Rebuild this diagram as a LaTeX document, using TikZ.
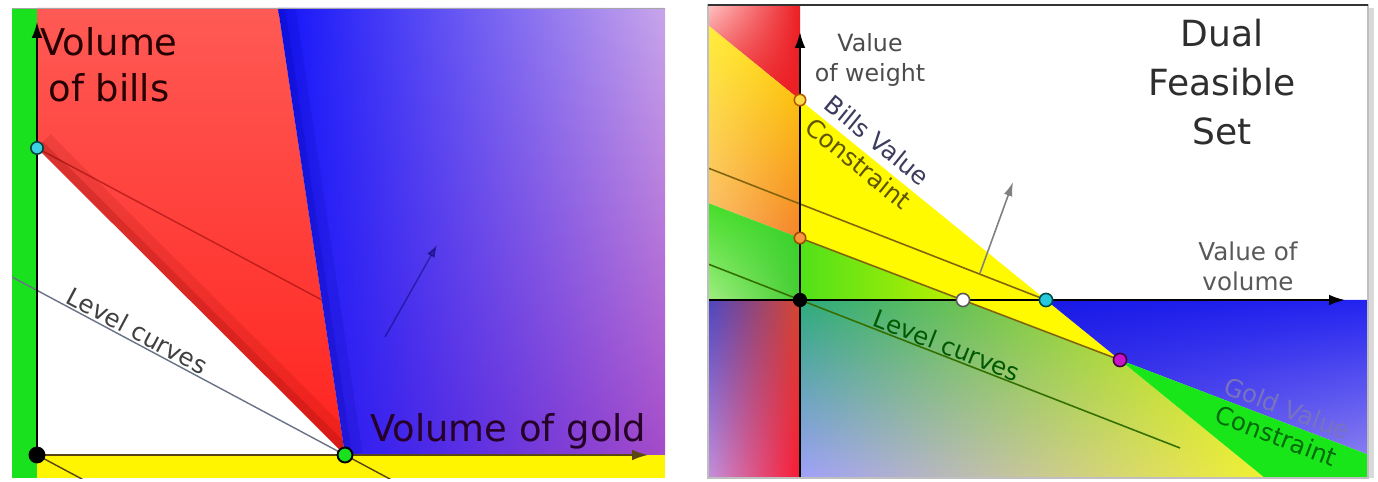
\documentclass[tikz,border=0pt]{standalone}
\usepackage{fontspec}
\setmainfont{DejaVu Sans}
\usetikzlibrary{arrows.meta,shadings}

% primal colours
\definecolor{pgreen}{RGB}{25,225,30}
\definecolor{pred}{RGB}{255,35,30}
\definecolor{predtop}{RGB}{255,90,85}
\definecolor{pblue}{RGB}{20,20,250}
\definecolor{plav}{RGB}{200,165,235}
\definecolor{ppurple}{RGB}{165,75,200}
\definecolor{pyellow}{RGB}{255,245,0}
\definecolor{pcyan}{RGB}{60,210,225}
\definecolor{paxis}{RGB}{90,70,20}
\definecolor{plevel}{RGB}{105,115,135}
% dual colours
\definecolor{dpink}{RGB}{255,195,195}
\definecolor{dred}{RGB}{235,30,35}
\definecolor{dyelA}{RGB}{255,238,60}
\definecolor{dyelB}{RGB}{255,220,0}
\definecolor{dorA}{RGB}{250,185,110}
\definecolor{dorB}{RGB}{245,130,40}
\definecolor{dgrA}{RGB}{70,222,40}
\definecolor{dgrB}{RGB}{50,210,40}
\definecolor{dgrC}{RGB}{160,238,130}
\definecolor{dgrD}{RGB}{70,205,50}
\definecolor{dqA}{RGB}{75,70,195}
\definecolor{dqB}{RGB}{215,70,45}
\definecolor{dqC}{RGB}{195,145,220}
\definecolor{dqD}{RGB}{250,25,50}
\definecolor{dgyA}{RGB}{80,225,25}
\definecolor{dgyB}{RGB}{190,240,0}
\definecolor{dmA}{RGB}{45,170,125}
\definecolor{dmB}{RGB}{215,242,0}
\definecolor{dmC}{RGB}{160,160,250}
\definecolor{dmD}{RGB}{240,240,50}
\definecolor{dbA}{RGB}{25,25,230}
\definecolor{dbB}{RGB}{35,35,240}
\definecolor{dbC}{RGB}{70,60,235}
\definecolor{dbD}{RGB}{135,125,240}
\definecolor{dyellow}{RGB}{255,250,0}
\definecolor{dband}{RGB}{25,230,25}
\definecolor{dlevel}{RGB}{130,100,15}
\definecolor{dcyan}{RGB}{40,200,220}
\definecolor{dmag}{RGB}{200,20,200}
\definecolor{dorange}{RGB}{250,150,60}
\definecolor{dgold}{RGB}{250,220,70}

\begin{document}
\begin{tikzpicture}[x=0.02cm,y=-0.02cm,
    dot/.style={circle,draw=black,line width=1.1pt,inner sep=0pt,minimum size=8.5pt},
    sdot/.style={circle,line width=0.9pt,inner sep=0pt,minimum size=7pt},
    axis/.style={line width=1.1pt,-{Latex[length=9pt,width=6pt]}},
    lbl/.style={font=\fontsize{14}{17}\selectfont,inner sep=1pt}]
  \useasboundingbox (0,0) rectangle (1378,482);

  % ---- primal: volumes of bills and gold ----
  \coordinate (O1) at (37,455);
  \coordinate (B1) at (37,148);
  \coordinate (G1) at (345,455);
  \coordinate (T1) at (278,8);
  \begin{scope}
    \clip (12,8) rectangle (665,478);
    \fill[white] (12,8) rectangle (665,478);
    \shade[top color=predtop,bottom color=pred] (37,8) -- (T1) -- (G1) -- (B1) -- cycle;
    \begin{scope}
      \clip (37,8) -- (T1) -- (G1) -- (B1) -- cycle;
      \draw[red!50!black,line width=22pt,opacity=0.12] (B1) -- (G1);
      \draw[red!50!black,line width=10pt,opacity=0.18] (B1) -- (G1);
      \draw[red!50!black,line width=0.8pt,opacity=0.5] (B1) -- (322,300);
    \end{scope}
    \shade[upper left=pblue,upper right=plav,lower left=pblue,lower right=ppurple]
      (T1) -- (665,8) -- (665,455) -- (G1) -- cycle;
    \begin{scope}
      \clip (T1) -- (665,8) -- (665,455) -- (G1) -- cycle;
      \draw[blue!55!black,line width=20pt,opacity=0.12] (T1) -- (G1);
      \draw[blue!55!black,line width=8pt,opacity=0.15] (T1) -- (G1);
    \end{scope}
    \draw[-{Latex[length=7pt,width=5pt]},blue!35!black,opacity=0.45,line width=0.8pt] (385,337) -- (437,245);
    \fill[pgreen] (12,8) rectangle (O1 |- 0,478);
    \fill[pyellow] (O1) rectangle (665,478);
    \draw[plevel,line width=0.8pt] (12,277) -- (G1);
    \draw[paxis,line width=0.8pt] (O1) -- ++(80,42.8);
    \draw[paxis,line width=0.8pt] (G1) -- ++(80,42.8);
    \draw[axis,paxis] (O1) -- (648,455);
    \draw[axis] (O1) -- (37,22);
    \node[font=\fontsize{21}{26}\selectfont,align=center,text=black!85!red] (vbills) at (109,65) {Volume\\of bills};
    \node[lbl,rotate=-28,anchor=south,text=black!75] (lvl1) at (132,341) {Level curves};
    \begin{scope}
      \clip (12,8) rectangle (648,478);
      \node[font=\fontsize{21}{26}\selectfont,anchor=base west,inner sep=0pt,text=violet!30!black] (vgold) at (370,441) {Volume of gold};
    \end{scope}
  \end{scope}
  \draw[gray!70] (12,8) -- (665,8);
  \node[dot,fill=black] (o1) at (O1) {};
  \node[dot,fill=pgreen] (g1) at (G1) {};
  \node[sdot,fill=pcyan,draw=teal!50!black] (c1) at (B1) {};

  % ---- dual: values of weight and volume ----
  \coordinate (O2) at (800,300);
  \coordinate (Y2) at (800,100);
  \coordinate (R2) at (800,238);
  \coordinate (W2) at (963,300);
  \coordinate (C2) at (1046,300);
  \coordinate (M2) at (1120,360);
  \coordinate (Ba) at (708,25.25);
  \coordinate (Bb) at (1265,478);
  \coordinate (Ga) at (708,203);
  \coordinate (Gb) at (1368,454.6);
  \begin{scope}
    \clip (708,5) rectangle (1368,478);
    \fill[white] (708,5) rectangle (1368,478);
    \shade[upper left=dpink,upper right=dred,lower left=dred,lower right=dred] (708,5) -- (800,5) -- (Y2) -- (Ba) -- cycle;
    \shade[upper left=dyelA,upper right=dyelB,lower left=dorA,lower right=dorB] (Ba) -- (Y2) -- (R2) -- (Ga) -- cycle;
    \shade[upper left=dgrA,upper right=dgrB,lower left=dgrC,lower right=dgrD] (Ga) -- (R2) -- (O2) -- (708,300) -- cycle;
    \shade[upper left=dqA,upper right=dqB,lower left=dqC,lower right=dqD] (708,300) rectangle (800,478);
    \fill[dyellow] (Y2) -- (C2) -- (W2) -- (R2) -- cycle;
    \shade[left color=dgyA,right color=dgyB] (R2) -- (W2) -- (O2) -- cycle;
    \fill[dyellow] (W2) -- (C2) -- (M2) -- cycle;
    \shade[upper left=dmA,upper right=dmB,lower left=dmC,lower right=dmD] (O2) -- (W2) -- (M2) -- (Bb) -- (800,478) -- cycle;
    \shade[upper left=dbA,upper right=dbB,lower left=dbC,lower right=dbD] (C2) -- (1368,300) -- (Gb) -- (M2) -- cycle;
    \fill[dband] (M2) -- (Gb) -- (1368,478) -- (Bb) -- cycle;
    % level curves and gold line
    \draw[dlevel,line width=0.9pt] (708,168) -- (C2);
    \draw[dlevel,line width=0.9pt] (R2) -- (M2);
    \draw[green!30!black!80!yellow,line width=0.9pt] (708,264) -- (1180,448);
    \draw[-{Latex[length=8pt,width=5pt]},gray,line width=0.9pt] (980,273) -- (1013,182);
    \draw[axis] (708,300) -- (1345,300);
    \draw[axis] (800,478) -- (800,32);
  \end{scope}
  \fill[gray!30] (1368,8) rectangle (1374,478);
  \draw[gray!50,line width=0.6pt] (708,5) rectangle (1368,478);
  \draw[gray!40!black,line width=0.8pt] (708,5) -- (1368,5);
  \node[dot,fill=black,minimum size=7pt] (o2) at (O2) {};
  \node[sdot,fill=dgold,draw=orange!70!black,minimum size=6.5pt] (y2) at (Y2) {};
  \node[sdot,fill=dorange,draw=orange!60!black,minimum size=6.5pt] (r2) at (R2) {};
  \node[sdot,fill=white,draw=gray!70!black,minimum size=7.5pt] (w2) at (W2) {};
  \node[sdot,fill=dcyan,draw=teal!60!black,minimum size=7.5pt] (c2) at (C2) {};
  \node[sdot,fill=dmag,draw=violet!50!black,minimum size=7.5pt] (m2) at (M2) {};
  % labels
  \node[font=\fontsize{13.5}{17}\selectfont,align=center,text=black!70] (vweight) at (870,60) {Value\\of weight};
  \node[font=\fontsize{20.5}{28}\selectfont,align=center,text=black!82] (dfs) at (1222,82) {Dual\\Feasible\\Set};
  \node[lbl,align=center,text=black!65] (vvol) at (1248,266) {Value of\\volume};
  \node[lbl,align=center,rotate=-39.1] (bcon) at (868,152)
    {{\color[RGB]{60,60,95}Bills Value}\\{\color[RGB]{95,85,0}Constraint}};
  \node[lbl,rotate=-21.3,anchor=south,text=green!35!black] (lvl2) at (943,356) {Level curves};
  \node[lbl,align=center,rotate=-20.9] (gcon) at (1282,422)
    {{\color[RGB]{120,115,190}Gold Value}\\{\color[RGB]{0,105,10}Constraint}};
\end{tikzpicture}
\end{document}
